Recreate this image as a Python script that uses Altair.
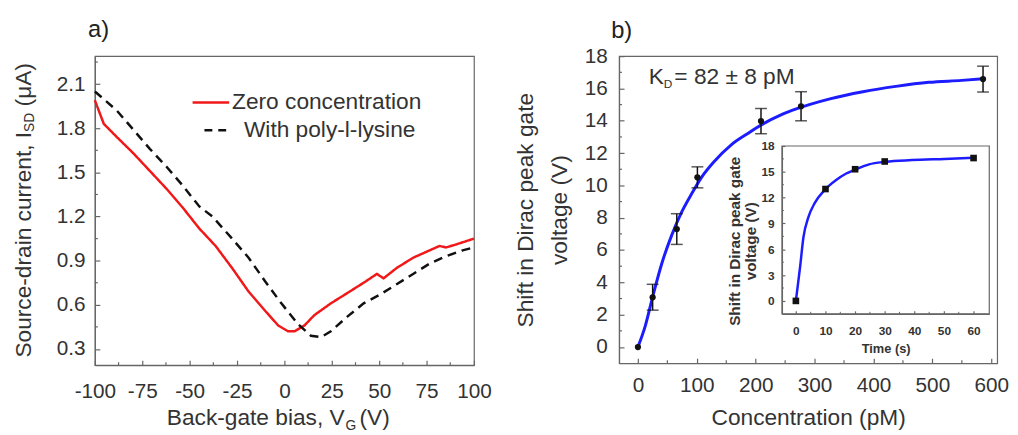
import altair as alt
import pandas as pd

FONT = "Liberation Sans"
AXIS_C = "#666666"
TEXT_C = "#333333"

# ---------------- panel a data ----------------
series_names = ["Zero concentration", "With poly-l-lysine"]
zero_vg = [-100, -95.3, -88.4, -79.7, -71.0, -62.3, -53.6, -45.0, -36.3, -27.6, -18.9, -10.2, -3.3, 1.9,
           5.4, 10.6, 15.8, 24.5, 33.2, 41.8, 48.8, 52.3, 59.2, 67.9, 76.6, 81.8, 85.3, 90.5, 100]
zero_isd = [1.99, 1.83, 1.74, 1.63, 1.51, 1.39, 1.26, 1.12, 1.00, 0.85, 0.69, 0.56, 0.46, 0.42,
            0.42, 0.46, 0.53, 0.61, 0.68, 0.75, 0.81, 0.78, 0.85, 0.92, 0.97, 1.00, 0.99, 1.01, 1.05]
pll_vg = [-100, -88.4, -79.7, -71.0, -62.3, -53.6, -45.0, -38.0, -27.6, -18.9, -10.2, -1.6, 7.1,
          14.0, 19.3, 24.5, 33.2, 41.8, 50.5, 59.2, 67.9, 76.6, 85.3, 94.0, 100]
pll_isd = [2.05, 1.92, 1.79, 1.66, 1.54, 1.41, 1.27, 1.20, 1.05, 0.92, 0.76, 0.61, 0.47,
           0.39, 0.38, 0.42, 0.52, 0.61, 0.67, 0.74, 0.81, 0.88, 0.93, 0.97, 0.99]
a_xticks = [-100, -75, -50, -25, 0, 25, 50, 75, 100]
a_yticks = [0.3, 0.6, 0.9, 1.2, 1.5, 1.8, 2.1]
a_xminor = [-87.5, -62.5, -37.5, -12.5, 12.5, 37.5, 62.5, 87.5]
a_yminor = [0.45, 0.75, 1.05, 1.35, 1.65, 1.95, 2.25]
a_xdom = [-100, 100]
a_ydom = [0.19, 2.29]

# ---------------- panel b data ----------------
b_conc = [0, 25, 66, 101, 209, 277, 586]
b_shift = [0, 3.08, 7.3, 10.5, 13.98, 14.9, 16.58]
b_err = [0, 0.8, 0.95, 0.65, 0.78, 0.9, 0.8]
b_fit_x = [0, 12.9, 25, 40.8, 57.6, 74.4, 91.2, 108, 130, 158, 186, 214, 242, 270, 326, 382, 438, 494, 550, 586]
b_fit_y = [0, 1.36, 3.1, 5.2, 6.94, 8.36, 9.48, 10.5, 11.5, 12.5, 13.2, 13.84, 14.35, 14.75, 15.36, 15.8,
           16.13, 16.38, 16.5, 16.6]
b_xticks = [0, 100, 200, 300, 400, 500, 600]
b_yticks = [0, 2, 4, 6, 8, 10, 12, 14, 16, 18]
b_xminor = [50, 150, 250, 350, 450, 550]
b_yminor = [1, 3, 5, 7, 9, 11, 13, 15, 17]
b_xdom = [-32, 610]
b_ydom = [-1, 18]

# inset
in_t = [0, 10, 20, 30, 60]
in_v = [0, 13.0, 15.3, 16.2, 16.6]
in_fit_t = [0, 1.44, 2.55, 4.2, 6.4, 9.76, 13.6, 17, 20.3, 24.7, 30.3, 39.1, 50.2, 60]
in_fit_v = [0, 4.0, 7.4, 9.7, 11.4, 12.9, 14.05, 14.8, 15.3, 15.87, 16.17, 16.36, 16.5, 16.63]
in_xticks = [0, 10, 20, 30, 40, 50, 60]
in_yticks = [0, 3, 6, 9, 12, 15, 18]
in_xminor = [5, 15, 25, 35, 45, 55]
in_yminor = [1.5, 4.5, 7.5, 10.5, 13.5, 16.5]
in_xdom = [-4.7, 65.3]
in_ydom = [-1.5, 18]

W_A, H_A = 384, 313
W_B, H_B = 383, 311
IN_X = [165, 375]
IN_Y = [261, 91]

one = pd.DataFrame({"k": [0]})


def txt(text, x, y, size, align="left", baseline="middle", angle=0, color=TEXT_C, weight="normal"):
    return alt.Chart(one).mark_text(text=text, align=align, baseline=baseline, angle=angle, fontSize=size,
                                    font=FONT, color=color, fontWeight=weight).encode(
        x=alt.value(x), y=alt.value(y))


def seg(x1, x2, y, color, dash=None):
    kw = {"color": color, "strokeWidth": 2.5}
    if dash:
        kw["strokeDash"] = dash
    return alt.Chart(one).mark_rule(**kw).encode(x=alt.value(x1), x2=alt.value(x2), y=alt.value(y))


# ================= panel a =================
xa_scale = alt.Scale(domain=a_xdom, nice=False, zero=False)
ya_scale = alt.Scale(domain=a_ydom, nice=False, zero=False)
xa_axis = alt.Axis(values=a_xticks, labelExpr="'' + datum.value", title=None, tickSize={"expr": "-5"},
                   labelPadding=21, labelFontSize=21, grid=False, labelFlush=False, labelOverlap=False)
ya_axis = alt.Axis(values=a_yticks, format=".1f", title=None, tickSize={"expr": "-5"},
                   labelPadding=15, labelFontSize=21, grid=False, labelOverlap=False)

df_a = pd.DataFrame({
    "vg": zero_vg + pll_vg,
    "isd": zero_isd + pll_isd,
    "series": [series_names[0]] * len(zero_vg) + [series_names[1]] * len(pll_vg),
})
lines_a = alt.Chart(df_a).mark_line(strokeWidth=2.5).encode(
    x=alt.X("vg:Q", scale=xa_scale, axis=xa_axis),
    y=alt.Y("isd:Q", scale=ya_scale, axis=ya_axis),
    color=alt.Color("series:N", scale=alt.Scale(domain=series_names, range=["#f01818", "#111111"]),
                    legend=None),
    strokeDash=alt.StrokeDash("series:N", scale=alt.Scale(domain=series_names, range=[[1, 0], [9, 6]]),
                              legend=None),
)
minor_xa = alt.Chart(pd.DataFrame({"vg": a_xminor})).mark_rule(color=AXIS_C, strokeWidth=1.2).encode(
    x=alt.X("vg:Q", scale=xa_scale, axis=xa_axis), y=alt.value(H_A), y2=alt.value(H_A - 3))
minor_ya = alt.Chart(pd.DataFrame({"isd": a_yminor})).mark_rule(color=AXIS_C, strokeWidth=1.2).encode(
    y=alt.Y("isd:Q", scale=ya_scale, axis=ya_axis), x=alt.value(0), x2=alt.value(3))

legend_a = [
    seg(99, 136, 47, "#f01818"),
    txt(series_names[0], 139, 47, 23),
    seg(111, 134, 75, "#111111", dash=[8, 6]),
    txt(series_names[1], 151, 75, 23),
]
ytitle_a = [
    txt("Source-drain current, I", -72, 76.7, 23, align="right", angle=270),
    txt("SD", -66, 76.7, 14, align="left", angle=270),
    txt("(\u03bcA)", -72, 50.9, 23, align="left", angle=270),
]
xtitle_a = [
    txt("Back-gate bias, V", 253, 374, 23, align="right", baseline="alphabetic"),
    txt("G", 254, 379, 14, align="left", baseline="alphabetic"),
    txt("(V)", 268, 374, 23, align="left", baseline="alphabetic"),
]

panel_a = alt.layer(lines_a, minor_xa, minor_ya, *legend_a, *ytitle_a, *xtitle_a).properties(
    width=W_A, height=H_A,
    title=alt.TitleParams("a)", anchor="start", frame="group", dx=-7, fontSize=24, fontWeight="normal",
                          color="#222222", offset=14))

# ================= panel b =================
xb_scale = alt.Scale(domain=b_xdom, nice=False, zero=False)
yb_scale = alt.Scale(domain=b_ydom, nice=False, zero=False)
xb_axis = alt.Axis(values=b_xticks, title="Concentration (pM)", titleFontSize=23, titlePadding=11,
                   tickSize={"expr": "-5"}, labelPadding=17, labelFontSize=21, grid=False,
                   labelFlush=False, labelOverlap=False)
yb_axis = alt.Axis(values=b_yticks, title=["Shift in Dirac peak gate", "voltage (V)"], titleFontSize=23,
                   titleLineHeight=34, titlePadding=13, tickSize={"expr": "-5"}, labelPadding=17,
                   labelFontSize=21, grid=False, labelOverlap=False)

df_b = pd.DataFrame({"x": b_conc, "y": b_shift, "e": b_err})
df_b["lo"] = df_b["y"] - df_b["e"]
df_b["hi"] = df_b["y"] + df_b["e"]
df_bfit = pd.DataFrame({"x": b_fit_x, "y": b_fit_y})

fit_b = alt.Chart(df_bfit).mark_line(color="#1c1cff", strokeWidth=3, interpolate="monotone").encode(
    x=alt.X("x:Q", scale=xb_scale, axis=xb_axis), y=alt.Y("y:Q", scale=yb_scale, axis=yb_axis))
err_base = alt.Chart(df_b).transform_filter("datum.e > 0")
err_rule = err_base.mark_rule(color="#111111", strokeWidth=1.5).encode(
    x=alt.X("x:Q", scale=xb_scale, axis=xb_axis), y=alt.Y("lo:Q", scale=yb_scale, axis=yb_axis),
    y2="hi:Q")
err_caps = err_base.transform_fold(["lo", "hi"], as_=["end", "y"]).mark_tick(
    orient="horizontal", size=12, thickness=1.5, color="#111111").encode(
    x=alt.X("x:Q", scale=xb_scale, axis=xb_axis), y=alt.Y("y:Q", scale=yb_scale, axis=yb_axis))
pts_b = alt.Chart(df_b).mark_point(filled=True, color="#111111", size=40, opacity=1).encode(
    x=alt.X("x:Q", scale=xb_scale, axis=xb_axis), y=alt.Y("y:Q", scale=yb_scale, axis=yb_axis))
minor_xb = alt.Chart(pd.DataFrame({"x": b_xminor})).mark_rule(color=AXIS_C, strokeWidth=1.2).encode(
    x=alt.X("x:Q", scale=xb_scale, axis=xb_axis), y=alt.value(H_B), y2=alt.value(H_B - 3))
minor_yb = alt.Chart(pd.DataFrame({"y": b_yminor})).mark_rule(color=AXIS_C, strokeWidth=1.2).encode(
    y=alt.Y("y:Q", scale=yb_scale, axis=yb_axis), x=alt.value(0), x2=alt.value(3))
kd = [
    txt("K", 30, 21, 23),
    txt("D", 45.3, 28, 12),
    txt("= 82 \u00b1 8 pM", 56, 21, 23),
]
main_b = alt.layer(fit_b, err_rule, err_caps, pts_b, minor_xb, minor_yb, *kd)

# inset
xi_scale = alt.Scale(domain=in_xdom, range=IN_X, nice=False, zero=False)
yi_scale = alt.Scale(domain=in_ydom, range=IN_Y, nice=False, zero=False)
xi_axis = alt.Axis(orient="bottom", offset=-(H_B - IN_Y[0]), values=in_xticks, title="Time (s)",
                   titleFontSize=13, titleFontWeight="bold", labelFontSize=12, labelFontWeight="bold",
                   tickSize={"expr": "-3"}, labelPadding=15, titlePadding=6, zindex=1, grid=False,
                   labelFlush=False, labelOverlap=False)
yi_axis = alt.Axis(orient="left", offset=-IN_X[0], values=in_yticks,
                   title=["Shift in Dirac peak gate", "voltage (V)"], titleFontSize=15.5,
                   titleFontWeight="bold", titleLineHeight=17, titleY=187, labelFontSize=12,
                   labelFontWeight="bold", tickSize={"expr": "-3"}, labelPadding=11, titlePadding=2,
                   zindex=1, grid=False, labelOverlap=False)
box = pd.DataFrame({"t": [in_xdom[0]], "t2": [in_xdom[1]], "v": [in_ydom[0]], "v2": [in_ydom[1]]})
in_box = alt.Chart(box).mark_rect(fill="white", stroke=AXIS_C, strokeWidth=1.2).encode(
    x=alt.X("t:Q", scale=xi_scale, axis=xi_axis), x2="t2:Q",
    y=alt.Y("v:Q", scale=yi_scale, axis=yi_axis), y2="v2:Q")
in_fit = alt.Chart(pd.DataFrame({"t": in_fit_t, "v": in_fit_v})).mark_line(
    color="#1c1cff", strokeWidth=2.5, interpolate="monotone").encode(
    x=alt.X("t:Q", scale=xi_scale, axis=xi_axis), y=alt.Y("v:Q", scale=yi_scale, axis=yi_axis))
in_pts = alt.Chart(pd.DataFrame({"t": in_t, "v": in_v})).mark_point(
    shape="square", filled=True, color="#111111", size=45, opacity=1).encode(
    x=alt.X("t:Q", scale=xi_scale, axis=xi_axis), y=alt.Y("v:Q", scale=yi_scale, axis=yi_axis))
in_minor_x = alt.Chart(pd.DataFrame({"t": in_xminor})).mark_rule(color=AXIS_C, strokeWidth=1).encode(
    x=alt.X("t:Q", scale=xi_scale, axis=xi_axis), y=alt.value(IN_Y[0]), y2=alt.value(IN_Y[0] - 2))
in_minor_y = alt.Chart(pd.DataFrame({"v": in_yminor})).mark_rule(color=AXIS_C, strokeWidth=1).encode(
    y=alt.Y("v:Q", scale=yi_scale, axis=yi_axis), x=alt.value(IN_X[0]), x2=alt.value(IN_X[0] + 2))
inset = alt.layer(in_box, in_fit, in_pts, in_minor_x, in_minor_y)

panel_b = alt.layer(main_b, inset).resolve_scale(x="independent", y="independent").resolve_axis(
    x="independent", y="independent").properties(
    width=W_B, height=H_B,
    title=alt.TitleParams("b)", anchor="start", frame="group", dx=-8, fontSize=24, fontWeight="normal",
                          color="#222222", offset=2))

chart = alt.hconcat(panel_a, panel_b, spacing=22).configure(
    font=FONT, padding={"left": 4, "top": 7, "right": 0, "bottom": 0}
).configure_view(stroke=AXIS_C, strokeWidth=1.2).configure_axis(
    domainColor=AXIS_C, tickColor=AXIS_C, labelColor=TEXT_C, titleColor=TEXT_C, labelFont=FONT,
    titleFont=FONT, domainWidth=1.2, tickWidth=1.2, titleFontWeight="normal")

chart.save("out.html", embed_options={"renderer": "svg", "actions": False})
